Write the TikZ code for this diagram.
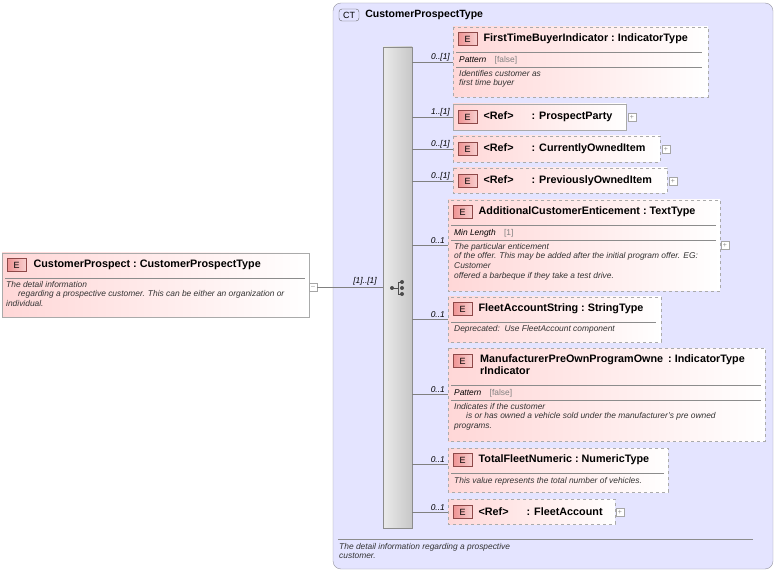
\documentclass[tikz,border=0pt]{standalone}
\usepackage{fontspec}
\setmainfont{Liberation Sans}
\usetikzlibrary{positioning}
\definecolor{ctfill}{RGB}{228,228,255}
\definecolor{ctline}{RGB}{150,150,160}
\definecolor{epink}{RGB}{255,215,215}
\definecolor{ebadge}{RGB}{235,120,120}
\definecolor{eline}{RGB}{170,170,170}
\tikzset{
  ebox/.style={draw=eline, left color=epink, right color=white, shading angle=90, line width=0.8pt},
  opt/.style={ebox, dashed},
  badge/.style={draw=ebadge!60!black, left color=ebadge!80, right color=ebadge!35, minimum width=19pt, minimum height=13pt, inner sep=0pt, font=\fontsize{9}{9}\selectfont, anchor=west},
  title/.style={anchor=west, inner sep=0pt, font=\bfseries\fontsize{10.8}{12.5}\selectfont},
  desc/.style={anchor=north west, inner sep=0pt, align=left, font=\itshape\fontsize{8.4}{9.6}\selectfont, text=black!80},
  facet/.style={anchor=west, inner sep=0pt, font=\fontsize{8.4}{9}\selectfont},
  card/.style={anchor=south east, inner sep=1pt, xshift=-2pt, font=\itshape\fontsize{8.4}{9}\selectfont},
  sep/.style={draw=black!45},
  plus/.style={draw=black!35, fill=white, minimum size=8pt, inner sep=0pt, font=\fontsize{7}{7}\selectfont, text=black!45},
  conn/.style={draw=black!50}
}
\begin{document}
\begin{tikzpicture}[x=1pt,y=-1pt]
\useasboundingbox (0,0) rectangle (777,572);
% complex type frame
\draw[draw=ctline, fill=ctfill, rounded corners=8pt] (333,3) rectangle (773,569);
\node[draw=black!60, fill=ctfill!70!blue!30, rounded corners=3pt, minimum width=20pt, minimum height=12pt, inner sep=0pt, font=\fontsize{9}{9}\selectfont] (ct) at (349,15) {CT};
\node[title, font=\bfseries\fontsize{10.5}{12}\selectfont, right=6pt of ct] {CustomerProspectType};
\draw[sep] (338,539) -- (753,539);
\node[desc] at (339,543) {The detail information regarding a prospective\\customer.};
% sequence bar
\draw[draw=black!45, left color=black!8, right color=black!22, shading angle=90] (383,47) rectangle (412,528);
\node[minimum width=29pt, minimum height=481pt, inner sep=0pt] (seq) at (397.5,287.5) {};
\foreach \yy in {-6,0,6} \fill[black!70] (402,288+\yy) circle (2pt);
\draw[black!70] (392,288) -- (398,288) (398,282) -- (398,294) (398,282) -- (402,282) (398,294) -- (402,294);
\fill[black!70] (392,288) circle (2pt);
% root element
\draw[ebox] (2,253) rectangle (309,317);
\node[badge] (rootE) at (7,265) {E};
\node[title, right=7pt of rootE] {CustomerProspect\ :\ CustomerProspectType};
\draw[sep] (5,278) -- (305,278);
\node[desc] at (6,281) {The detail information\\\hspace{12pt}regarding a prospective customer. This can be either an organization or\\individual.};
\node[plus] (rootM) at (313,287) {--};
\draw[conn] (rootM.east) -- (seq.west |- rootM.east);
\node[card, anchor=south, xshift=0pt] at (367,286) {[1]..[1]};
% children
\draw[opt] (453,27) rectangle (708,97);
\node[badge] (e1) at (458,39) {E};
\node[title, right=6pt of e1] {FirstTimeBuyerIndicator\ :\ IndicatorType};
\draw[sep] (456,52) -- (702,52);
\node[facet] at (459,60) {\textit{Pattern}\quad\textcolor{black!50}{[false]}};
\draw[sep] (456,67) -- (702,67);
\node[desc] at (459,70) {Identifies customer as\\first time buyer};
\coordinate (c1) at (453,62);
\node[card] at (c1) {0..[1]};

\draw[ebox] (453,104) rectangle (626,130);
\node[badge] (e2) at (458,117) {E};
\node[title, right=6pt of e2] {<Ref>\hspace{18pt}: ProspectParty};
\node[plus] at (632,117) {+};
\coordinate (c2) at (453,117);
\node[card] at (c2) {1..[1]};

\draw[opt] (453,136) rectangle (660,162);
\node[badge] (e3) at (458,149) {E};
\node[title, right=6pt of e3] {<Ref>\hspace{18pt}: CurrentlyOwnedItem};
\node[plus] at (666,149) {+};
\coordinate (c3) at (453,149);
\node[card] at (c3) {0..[1]};

\draw[opt] (453,168) rectangle (667,193);
\node[badge] (e4) at (458,181) {E};
\node[title, right=6pt of e4] {<Ref>\hspace{18pt}: PreviouslyOwnedItem};
\node[plus] at (673,181) {+};
\coordinate (c4) at (453,181);
\node[card] at (c4) {0..[1]};

\draw[opt] (448,200) rectangle (720,291);
\node[badge] (e5) at (453,212) {E};
\node[title, right=6pt of e5] {AdditionalCustomerEnticement\ :\ TextType};
\draw[sep] (451,225) -- (716,225);
\node[facet] at (454,233) {\textit{Min Length}\quad\textcolor{black!50}{[1]}};
\draw[sep] (451,240) -- (716,240);
\node[desc] at (454,243) {The particular enticement\\of the offer. This may be added after the initial program offer. EG:\\Customer\\offered a barbeque if they take a test drive.};
\node[plus] at (725,245) {+};
\coordinate (c5) at (448,245);
\node[card] at (c5) {0..1};

\draw[opt] (448,297) rectangle (661,342);
\node[badge] (e6) at (453,309) {E};
\node[title, right=6pt of e6] {FleetAccountString\ :\ StringType};
\draw[sep] (451,322) -- (656,322);
\node[desc] at (454,325) {Deprecated:\ \ Use FleetAccount component};
\coordinate (c6) at (448,319);
\node[card] at (c6) {0..1};

\draw[opt] (448,348) rectangle (765,441);
\node[badge] (e7) at (453,361) {E};
\node[title, anchor=north west, align=left] at (480,354) {ManufacturerPreOwnProgramOwne\\rIndicator};
\node[title, anchor=north west] at (668,354) {:\ IndicatorType};
\draw[sep] (451,385) -- (761,385);
\node[facet] at (454,393) {\textit{Pattern}\quad\textcolor{black!50}{[false]}};
\draw[sep] (451,400) -- (761,400);
\node[desc] at (454,403) {Indicates if the customer\\\hspace{12pt}is or has owned a vehicle sold under the manufacturer's pre owned\\programs.};
\coordinate (c7) at (448,394);
\node[card] at (c7) {0..1};

\draw[opt] (448,448) rectangle (668,492);
\node[badge] (e8) at (453,460) {E};
\node[title, right=6pt of e8] {TotalFleetNumeric\ :\ NumericType};
\draw[sep] (451,473) -- (664,473);
\node[desc] at (454,477) {This value represents the total number of vehicles.};
\coordinate (c8) at (448,464);
\node[card] at (c8) {0..1};

\draw[opt] (448,499) rectangle (615,524);
\node[badge] (e9) at (453,512) {E};
\node[title, right=6pt of e9] {<Ref>\hspace{18pt}: FleetAccount};
\node[plus] at (620,512) {+};
\coordinate (c9) at (448,512);
\node[card] at (c9) {0..1};
% connectors from sequence
\foreach \c in {c1,c2,c3,c4,c5,c6,c7,c8,c9}
  \draw[conn] (seq.east |- \c) -- (\c);
\end{tikzpicture}
\end{document}
